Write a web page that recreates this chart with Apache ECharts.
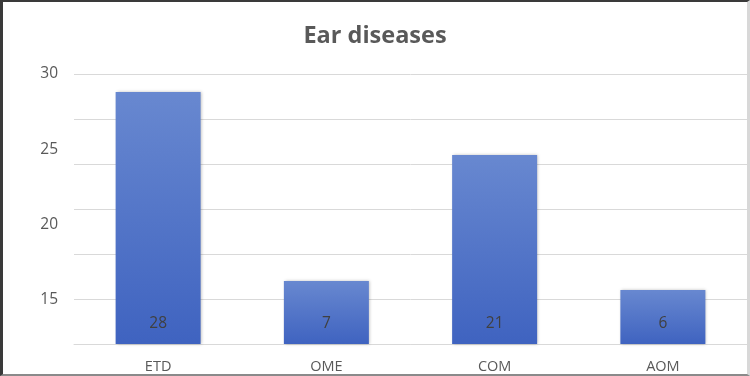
<!DOCTYPE html>
<html>
<head>
<meta charset="utf-8">
<script src="https://cdn.jsdelivr.net/npm/echarts@6/dist/echarts.min.js"></script>
<style>
html, body { margin: 0; padding: 0; background: #fff; }
#frame {
	width: 750px; height: 376px; box-sizing: border-box;
	border-left: 3px solid #3a3a3a; border-top: 2px solid #3a3a3a;
	border-bottom: 2px solid #8a8a8a; border-right: 3px solid #d8d8d8;
}
#main { width: 744px; height: 372px; }
</style>
</head>
<body>
<div id="frame"><div id="main"></div></div>
<script>
var categories = ['ETD', 'OME', 'COM', 'AOM'];
var counts = [28, 7, 21, 6];
// the y axis labels printed on the original chart (do not line up with the grid)
var tickLabels = ['15', '20', '25', '30'];

var myChart = echarts.init(document.getElementById('main'));

// offsets: chart div sits 3px right and 2px down inside the frame
var option = {
	animation: false,
	title: {
		text: 'Ear diseases',
		left: 'center',
		top: 17,
		textStyle: {
			fontFamily: 'Open Sans',
			fontSize: 23.5,
			fontWeight: 'bold',
			color: '#595959'
		}
	},
	grid: [
		{ left: 71, right: 0, top: 72, height: 270 },
		{ left: 71, right: 0, top: 72, height: 226 }
	],
	xAxis: [{
		type: 'category',
		gridIndex: 0,
		data: categories,
		axisLine: { lineStyle: { color: '#d9d9d9', width: 1 } },
		axisTick: { show: false },
		axisLabel: { color: '#595959', fontSize: 14.5, fontFamily: 'Open Sans', margin: 15 }
	}, {
		type: 'category',
		gridIndex: 1,
		show: false,
		data: categories
	}],
	yAxis: [{
		type: 'value',
		gridIndex: 0,
		min: 0,
		max: 30,
		interval: 5,
		axisLabel: { show: false },
		axisLine: { show: false },
		axisTick: { show: false },
		splitLine: { lineStyle: { color: '#d9d9d9', width: 1 } }
	}, {
		type: 'category',
		gridIndex: 1,
		data: tickLabels,
		boundaryGap: false,
		axisLine: { show: false },
		axisTick: { show: false },
		splitLine: { show: false },
		axisLabel: { color: '#595959', fontSize: 15.5, fontFamily: 'Open Sans', margin: 16 }
	}],
	series: [{
		name: 'Ear diseases',
		type: 'bar',
		xAxisIndex: 0,
		yAxisIndex: 0,
		data: counts,
		barWidth: 85,
		itemStyle: {
			color: new echarts.graphic.LinearGradient(0, 0, 0, 1, [
				{ offset: 0, color: '#6888d0' },
				{ offset: 1, color: '#3f63c0' }
			]),
			shadowColor: 'rgba(0,0,0,0.25)',
			shadowBlur: 3,
			shadowOffsetX: 1
		},
		label: {
			show: true,
			position: 'insideBottom',
			distance: 12,
			color: '#404040',
			fontSize: 15.5,
			fontFamily: 'Open Sans'
		}
	}]
};

myChart.setOption(option, true);
</script>
</body>
</html>
